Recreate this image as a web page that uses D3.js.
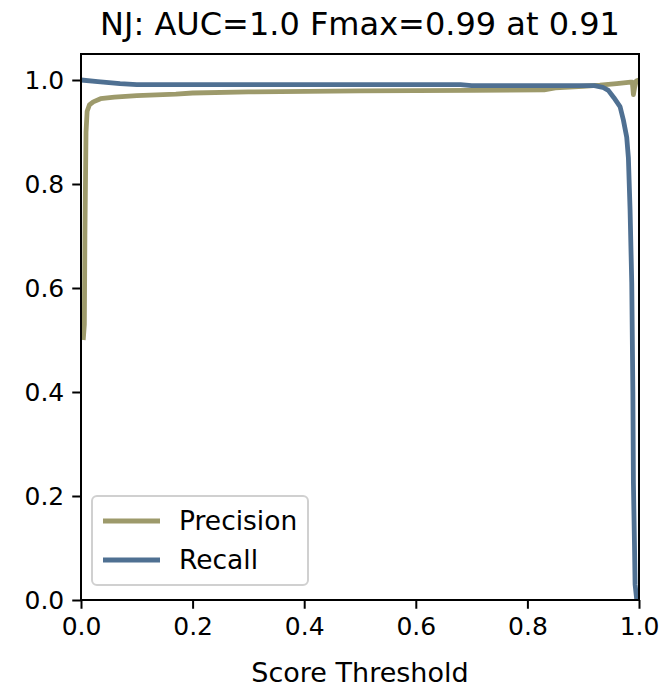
<!DOCTYPE html>
<html>
<head>
<meta charset="utf-8">
<script src="https://cdn.jsdelivr.net/npm/d3@7"></script>
<style>
  body { margin: 0; background: #fff; }
  svg text { font-family: "DejaVu Sans", sans-serif; fill: #000; }
</style>
</head>
<body>
<svg id="chart" width="660" height="691"></svg>
<script>
// precision curve (score threshold -> precision)
const precThresholds = [0.004, 0.006, 0.007, 0.009, 0.011, 0.015, 0.022, 0.035, 0.06, 0.1, 0.17, 0.2, 0.3, 0.5, 0.7, 0.83, 0.85, 0.9, 0.93, 0.96, 0.985, 0.988, 0.99, 0.992, 0.995, 1.0];
const precValues = [0.50, 0.53, 0.70, 0.90, 0.94, 0.952, 0.958, 0.964, 0.967, 0.970, 0.973, 0.975, 0.977, 0.979, 0.980, 0.981, 0.985, 0.988, 0.990, 0.993, 0.996, 0.996, 0.972, 0.985, 0.998, 1.0];

// recall curve (score threshold -> recall)
const recThresholds = [0.0, 0.03, 0.07, 0.1, 0.68, 0.7, 0.92, 0.935, 0.945, 0.955, 0.966, 0.972, 0.978, 0.981, 0.984, 0.987, 0.989, 0.990, 0.992, 0.993, 0.996];
const recValues = [1.0, 0.997, 0.993, 0.991, 0.991, 0.989, 0.989, 0.986, 0.980, 0.966, 0.949, 0.923, 0.890, 0.850, 0.750, 0.610, 0.400, 0.225, 0.100, 0.030, 0.0];

const xTicks = [0, 0.2, 0.4, 0.6, 0.8, 1.0];
const yTicks = [0, 0.2, 0.4, 0.6, 0.8, 1.0];

const seriesNames = ["Precision", "Recall"];
const seriesColors = ["#9d9a6b", "#4f7092"];

const svg = d3.select("#chart");
const m = { left: 81, right: 639, top: 54, bottom: 600 };

const x = d3.scaleLinear().domain([0, 1]).range([m.left, m.right]);
const y = d3.scaleLinear().domain([0, 1.05]).range([m.bottom, m.top]);

// title
svg.append("text")
  .attr("x", (m.left + m.right) / 2)
  .attr("y", 35)
  .attr("text-anchor", "middle")
  .attr("font-size", 32)
  .text("NJ: AUC=1.0 Fmax=0.99 at 0.91");

// lines
const line = d3.line().x(d => x(d[0])).y(d => y(d[1]));
const precData = precThresholds.map((t, i) => [t, precValues[i]]);
const recData = recThresholds.map((t, i) => [t, recValues[i]]);

const plot = svg.append("g");
plot.append("clipPath").attr("id", "clip")
  .append("rect").attr("x", m.left).attr("y", m.top).attr("width", m.right - m.left).attr("height", m.bottom - m.top);

[precData, recData].forEach((d, i) => {
  plot.append("path")
    .datum(d)
    .attr("clip-path", "url(#clip)")
    .attr("fill", "none")
    .attr("stroke", seriesColors[i])
    .attr("stroke-width", 4.8)
    .attr("stroke-linejoin", "round")
    .attr("stroke-linecap", "butt")
    .attr("d", line);
});

// axes
const xAxis = svg.append("g")
  .attr("transform", `translate(0,${m.bottom})`)
  .call(d3.axisBottom(x).tickValues(xTicks).tickFormat(d3.format(".1f")).tickSize(8.75).tickPadding(8));
const yAxis = svg.append("g")
  .attr("transform", `translate(${m.left},0)`)
  .call(d3.axisLeft(y).tickValues(yTicks).tickFormat(d3.format(".1f")).tickSize(8.75).tickPadding(8));

[xAxis, yAxis].forEach(a => {
  a.select(".domain").remove();
  a.selectAll(".tick line").attr("stroke", "#000").attr("stroke-width", 2);
  a.selectAll(".tick text").attr("font-size", 25).attr("font-family", "DejaVu Sans");
});

// spines
svg.append("rect")
  .attr("x", m.left).attr("y", m.top)
  .attr("width", m.right - m.left).attr("height", m.bottom - m.top)
  .attr("fill", "none").attr("stroke", "#000").attr("stroke-width", 2);

// x label
svg.append("text")
  .attr("x", (m.left + m.right) / 2)
  .attr("y", 682)
  .attr("text-anchor", "middle")
  .attr("font-size", 27)
  .text("Score Threshold");

// legend
const legend = svg.append("g").attr("transform", "translate(92,496)");
legend.append("rect")
  .attr("width", 216).attr("height", 89)
  .attr("rx", 5)
  .attr("fill", "#fff").attr("fill-opacity", 0.8)
  .attr("stroke", "#d0d0d0").attr("stroke-width", 2);

seriesNames.forEach((name, i) => {
  const row = legend.append("g").attr("transform", `translate(0,${25 + i * 39})`);
  row.append("line")
    .attr("x1", 11).attr("x2", 68)
    .attr("stroke", seriesColors[i]).attr("stroke-width", 4.8);
  row.append("text")
    .attr("x", 87).attr("y", 9)
    .attr("font-size", 26.5)
    .text(name);
});
</script>
</body>
</html>
